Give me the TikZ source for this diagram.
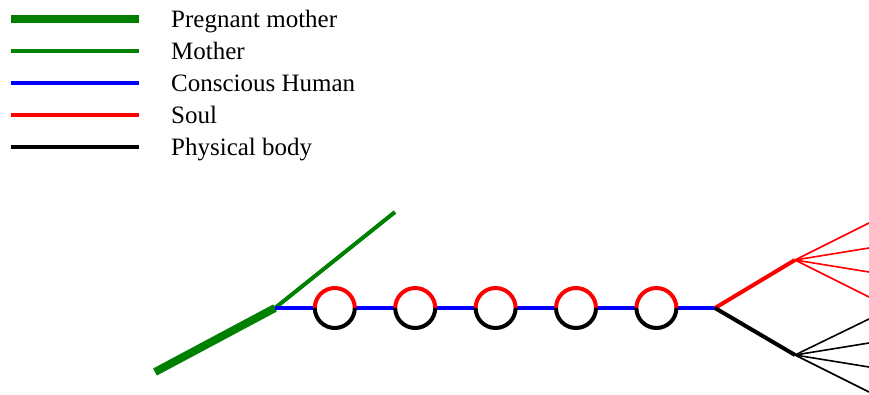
\documentclass[tikz,border=0pt]{standalone}
\usepackage{fontspec}
\setmainfont{Liberation Serif}
\usetikzlibrary{shapes,positioning}
\tikzstyle{pregnant}=[draw=green!50!black,line width=8pt]
\tikzstyle{mother}=[draw=green!50!black,line width=4pt]
\tikzstyle{human}=[draw=blue,line width=4pt]
\tikzstyle{soul}=[draw=red,line width=4pt]
\tikzstyle{body}=[draw=black,line width=4pt]
\tikzstyle{soulfan}=[draw=red,line width=1.6pt]
\tikzstyle{bodyfan}=[draw=black,line width=1.6pt]
\tikzstyle{lab}=[anchor=base west,inner sep=0pt,font=\fontsize{25}{30}\selectfont]
\tikzstyle{life}=[circle,inner sep=0pt,minimum size=40pt]

\begin{document}
\begin{tikzpicture}[x=1pt,y=-1pt]
\useasboundingbox (0,0) rectangle (869,395);
% legend
\coordinate (k1) at (11,19.5);
\coordinate (k2) at (11,51);
\coordinate (k3) at (11,83);
\coordinate (k4) at (11,115);
\coordinate (k5) at (11,147.5);
\node[lab] (t1) at (171,28) {Pregnant mother};
\node[lab] (t2) at (171,59.5) {Mother};
\node[lab] (t3) at (171,91.5) {Conscious Human};
\node[lab] (t4) at (171,123.5) {Soul};
\node[lab] (t5) at (171,156) {Physical body};
\draw[pregnant] (k1) -- ++(128,0);
\draw[mother] (k2) -- ++(128,0);
\draw[human] (k3) -- ++(128,0);
\draw[soul] (k4) -- ++(128,0);
\draw[body] (k5) -- ++(128,0);
% life line
\coordinate (start) at (155,372);
\coordinate (birth) at (275,308);
\coordinate (away) at (395,212);
\node[life] (c1) at (335,308) {};
\node[life, right=40pt of c1] (c2) {};
\node[life, right=40pt of c2] (c3) {};
\node[life, right=40pt of c3] (c4) {};
\node[life, right=40pt of c4] (c5) {};
\coordinate (death) at (715,308);
\coordinate (up) at (795,260);
\coordinate (down) at (795,355);
\draw[pregnant] (start) -- (birth);
\draw[mother] (birth) -- (away);
\draw[human] (birth) -- (c1.west);
\foreach \a/\b in {c1/c2,c2/c3,c3/c4,c4/c5}
  \draw[human] (\a.east) -- (\b.west);
\draw[human] (c5.east) -- (death);
\foreach \c in {c1,c2,c3,c4,c5}{
  \draw[soul] (\c.west) arc (180:0:20pt);
  \draw[body] (\c.west) arc (180:360:20pt);
}
\draw[soul] (death) -- (up);
\draw[body] (death) -- (down);
\foreach \y in {223,248,272,297}
  \draw[soulfan] (up) -- (869,\y);
\foreach \y in {319,343,367,392}
  \draw[bodyfan] (down) -- (869,\y);
\end{tikzpicture}
\end{document}
